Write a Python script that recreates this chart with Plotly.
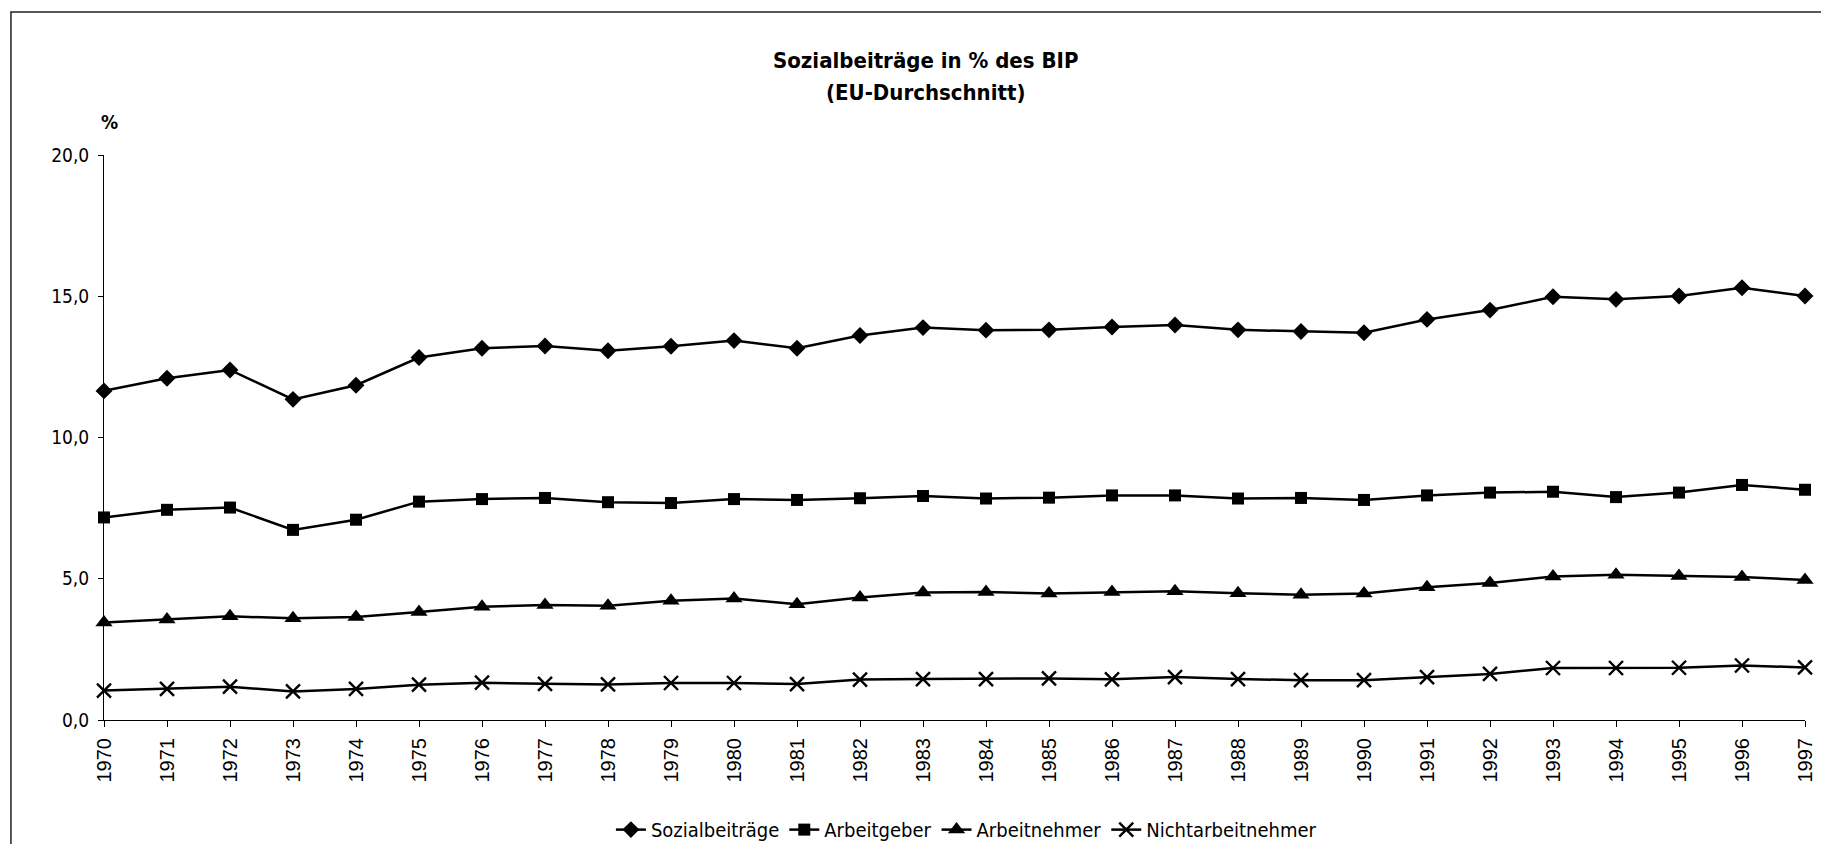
import plotly.graph_objects as go

# --- Data ---
years = list(range(1970, 1998))

sozialbeitraege = [11.65, 12.10, 12.39, 11.35, 11.85, 12.83, 13.16, 13.24, 13.07, 13.23,
                   13.43, 13.16, 13.61, 13.89, 13.80, 13.81, 13.91, 13.98, 13.81, 13.75,
                   13.71, 14.18, 14.51, 14.98, 14.89, 15.01, 15.30, 15.01]

arbeitgeber = [7.17, 7.44, 7.52, 6.73, 7.09, 7.73, 7.82, 7.86, 7.71, 7.68,
               7.82, 7.79, 7.85, 7.93, 7.84, 7.87, 7.95, 7.95, 7.84, 7.86,
               7.79, 7.95, 8.05, 8.08, 7.89, 8.05, 8.32, 8.15]

arbeitnehmer = [3.45, 3.56, 3.67, 3.60, 3.65, 3.82, 4.01, 4.07, 4.04, 4.22,
                4.30, 4.10, 4.34, 4.51, 4.53, 4.48, 4.53, 4.56, 4.49, 4.43,
                4.48, 4.70, 4.85, 5.08, 5.14, 5.10, 5.06, 4.96]

nichtarbeitnehmer = [1.04, 1.10, 1.18, 1.01, 1.10, 1.25, 1.32, 1.28, 1.26, 1.31,
                     1.31, 1.27, 1.43, 1.45, 1.45, 1.47, 1.44, 1.52, 1.45, 1.41,
                     1.41, 1.52, 1.63, 1.84, 1.84, 1.85, 1.93, 1.86]

y_ticks = [0, 5, 10, 15, 20]

series = [
    ("Sozialbeiträge", sozialbeitraege, "diamond", 13),
    ("Arbeitgeber", arbeitgeber, "square", 12),
    ("Arbeitnehmer", arbeitnehmer, "triangle-up", 15),
    ("Nichtarbeitnehmer", nichtarbeitnehmer, "x-thin", 14),
]

NARROW = "Liberation Sans Narrow, Arial Narrow, DejaVu Sans Condensed, sans-serif"
REGULAR = "Liberation Sans, Arial, sans-serif"

# --- Figure ---
fig = go.Figure()
for name, vals, symbol, size in series:
    marker = dict(symbol=symbol, size=size, color="black")
    if symbol == "x-thin":
        marker["line"] = dict(width=2.4, color="black")
    fig.add_trace(go.Scatter(
        x=years, y=vals, name=name, mode="lines+markers",
        line=dict(color="black", width=2.5),
        marker=marker, cliponaxis=False,
    ))

# page body has an 8px margin, so the figure is 8px smaller and margins shifted
fig.update_layout(
    width=1821, height=836,
    margin=dict(l=96, r=24, t=147, b=124, autoexpand=False),
    paper_bgcolor="white", plot_bgcolor="white",
    separators=",.",
    font=dict(family=NARROW, size=19, color="black"),
    showlegend=True,
    legend=dict(orientation="h", x=0.507, xanchor="center", y=-0.194, yanchor="middle",
                font=dict(family=NARROW, size=20, color="black"),
                bgcolor="rgba(0,0,0,0)", itemwidth=30),
)

fig.update_xaxes(
    range=[1970, 1997], tickvals=years, ticktext=[str(y) for y in years],
    tickangle=-90, ticks="outside", ticklen=6, tickcolor="black",
    showline=True, linecolor="black", linewidth=1,
    showgrid=False, zeroline=False, ticklabelstandoff=3,
    tickfont=dict(family=REGULAR, size=20, color="black"),
)
fig.update_yaxes(
    range=[0, 20], tickvals=y_ticks, tickformat=".1f",
    ticks="outside", ticklen=5, tickcolor="black",
    showline=True, linecolor="black", linewidth=1,
    showgrid=False, zeroline=False, ticklabelstandoff=5,
    tickfont=dict(family=NARROW, size=19, color="black"),
)

# title lines and unit label
fig.add_annotation(text="<b>Sozialbeiträge in % des BIP</b>", xref="paper", yref="paper",
                   x=0.4832, y=1.168, showarrow=False, xanchor="center", yanchor="middle",
                   font=dict(family=NARROW, size=22, color="black"))
fig.add_annotation(text="<b>(EU-Durchschnitt)</b>", xref="paper", yref="paper",
                   x=0.4832, y=1.110, showarrow=False, xanchor="center", yanchor="middle",
                   font=dict(family=NARROW, size=22, color="black"))
fig.add_annotation(text="<b>%</b>", xref="paper", yref="paper",
                   x=0.003, y=1.058, showarrow=False, xanchor="center", yanchor="middle",
                   font=dict(family=NARROW, size=19, color="black"))

# outer frame of the chart area
fig.add_shape(type="rect", xref="paper", yref="paper",
              x0=-0.0547, x1=1.05, y0=-0.3, y1=1.2529,
              line=dict(color="#222", width=1.5), layer="below")

fig.write_html("out.html")
